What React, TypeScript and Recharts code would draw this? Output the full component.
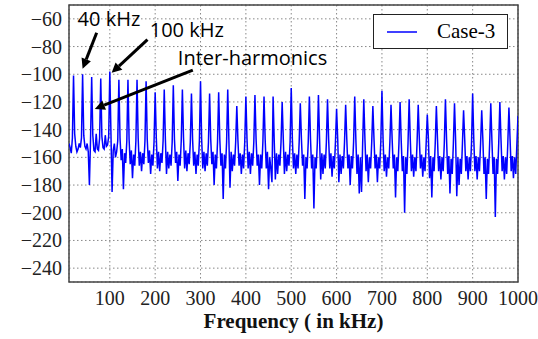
import {
  LineChart,
  Line,
  XAxis,
  YAxis,
  CartesianGrid,
  ReferenceArea,
  ReferenceLine,
  ReferenceDot,
} from "recharts";

// spectrum is sampled every 2.5 kHz, harmonics every 20 kHz
const STEP = 2.5;
const HARMONIC = 20;

// 10 .. 17.5 kHz, before the first harmonic
const leadIn = [-150, -153, -157, -146];

// peak of each harmonic, 20 kHz .. 1000 kHz (dB)
const harmonicPeaks = [
  -101, -100, -102, -103, -98, -104, -104, -104, -105, -113,
  -111, -108, -111, -114, -105, -114, -113, -111, -123, -116,
  -115, -116, -116, -120, -110, -121, -116, -115, -118, -125,
  -122, -116, -118, -123, -112, -122, -120, -118, -122, -129,
  -123, -118, -121, -126, -114, -126, -121, -120, -124, -130,
];

// noise floor between harmonic k and k+1 (at +2.5, +5 ... +17.5 kHz)
const noiseFloor = [
  [-143, -152, -156, -154, -150, -153, -146],
  [-144, -152, -154, -150, -156, -180, -147],
  [-144, -155, -156, -143, -154, -155, -146],
  [-145, -153, -154, -144, -152, -151, -145],
  [-143, -185, -155, -150, -160, -156, -148],
  [-146, -162, -154, -183, -157, -164, -148],
  [-147, -165, -155, -175, -158, -166, -148],
  [-146, -166, -156, -170, -157, -165, -148],
  [-147, -164, -155, -172, -158, -166, -149],
  [-146, -168, -156, -170, -157, -164, -148],
  [-147, -172, -156, -168, -158, -166, -149],
  [-147, -164, -156, -177, -158, -166, -148],
  [-146, -168, -155, -170, -157, -165, -149],
  [-147, -166, -156, -172, -158, -166, -148],
  [-147, -168, -156, -170, -157, -166, -149],
  [-147, -165, -156, -180, -158, -168, -149],
  [-147, -166, -157, -190, -158, -168, -149],
  [-147, -182, -156, -170, -158, -166, -149],
  [-148, -166, -157, -172, -158, -168, -149],
  [-147, -168, -156, -172, -157, -166, -149],
  [-147, -166, -158, -180, -158, -168, -149],
  [-147, -168, -156, -183, -160, -168, -178],
  [-148, -176, -157, -172, -158, -166, -149],
  [-147, -172, -156, -170, -158, -166, -149],
  [-147, -168, -157, -172, -158, -168, -149],
  [-147, -166, -158, -190, -160, -168, -149],
  [-147, -168, -158, -197, -160, -168, -150],
  [-147, -176, -157, -172, -158, -168, -149],
  [-147, -168, -157, -174, -159, -168, -149],
  [-147, -178, -158, -172, -159, -168, -149],
  [-147, -168, -158, -180, -159, -168, -149],
  [-147, -172, -158, -186, -160, -185, -150],
  [-147, -170, -158, -178, -160, -168, -149],
  [-147, -168, -158, -178, -160, -168, -149],
  [-147, -170, -158, -174, -160, -168, -149],
  [-147, -168, -158, -189, -160, -170, -150],
  [-148, -170, -159, -200, -160, -172, -150],
  [-147, -170, -158, -174, -160, -170, -149],
  [-147, -168, -158, -174, -160, -170, -150],
  [-147, -175, -159, -189, -160, -170, -150],
  [-147, -170, -159, -176, -160, -170, -150],
  [-147, -172, -159, -186, -161, -172, -150],
  [-148, -188, -160, -180, -161, -172, -150],
  [-147, -170, -159, -176, -160, -170, -150],
  [-147, -170, -159, -176, -160, -170, -150],
  [-147, -172, -160, -190, -161, -172, -150],
  [-148, -172, -160, -203, -161, -172, -150],
  [-147, -170, -159, -176, -160, -172, -150],
  [-147, -170, -159, -175, -160, -172, -151],
];

const xTicks = [100, 200, 300, 400, 500, 600, 700, 800, 900, 1000];
const yTicks = [-60, -80, -100, -120, -140, -160, -180, -200, -220, -240];

// arrows: [from kHz, from dB, to kHz, to dB]
const arrows = [
  [71, -70, 40, -96],
  [183, -75, 104, -99],
  [283, -97, 67, -125],
];
// annotation text: [kHz, dB, text]
const notes: [number, number, string][] = [
  [29, -65.5, "40 kHz"],
  [188, -72.8, "100 kHz"],
  [250, -93.2, "Inter-harmonics"],
];

const data: { f: number; v: number }[] = [];
leadIn.forEach((v, i) => data.push({ f: 10 + i * STEP, v }));
harmonicPeaks.forEach((peak, k) => {
  const f0 = (k + 1) * HARMONIC;
  data.push({ f: f0, v: peak });
  const row = noiseFloor[k];
  if (row) row.forEach((v, j) => data.push({ f: f0 + (j + 1) * STEP, v }));
});

const SERIF = "'Liberation Serif', 'Times New Roman', serif";
const fmt = (v: number) => (v < 0 ? `\u2212${Math.abs(v)}` : `${v}`);

const XTick = (props: any) => {
  const { x, y, payload } = props;
  return (
    <text x={x} y={y + 15} textAnchor="middle" fill="#222" fontSize={20} fontFamily={SERIF}>
      {fmt(payload.value)}
    </text>
  );
};

const YTick = (props: any) => {
  const { x, y, payload } = props;
  return (
    <text x={x} y={y + 7} textAnchor="end" fill="#222" fontSize={20} fontFamily={SERIF}>
      {fmt(payload.value)}
    </text>
  );
};

const Arrow = (props: any) => {
  const { x1, y1, x2, y2 } = props;
  const ang = Math.atan2(y2 - y1, x2 - x1);
  const len = 10;
  const w = 5;
  const bx = x2 - len * Math.cos(ang);
  const by = y2 - len * Math.sin(ang);
  const px = -Math.sin(ang) * w;
  const py = Math.cos(ang) * w;
  return (
    <g>
      <line x1={x1} y1={y1} x2={bx} y2={by} stroke="#000" strokeWidth={3} />
      <polygon
        points={`${x2},${y2} ${bx + px},${by + py} ${bx - px},${by - py}`}
        fill="#000"
      />
    </g>
  );
};

const LegendBox = () => (
  <div
    style={{
      position: "absolute",
      left: 373,
      top: 14,
      width: 133,
      height: 33,
      border: "1.5px solid #222",
      background: "#fff",
      display: "flex",
      alignItems: "center",
      fontFamily: SERIF,
      fontSize: 21,
    }}
  >
    <svg width={58} height={20}>
      <line x1={13} y1={10} x2={43} y2={10} stroke="#0000ff" strokeWidth={1.5} />
    </svg>
    <span style={{ marginLeft: 5 }}>Case-3</span>
  </div>
);

export default function App() {
  return (
    <div style={{ position: "absolute", left: 0, top: 0, width: 538, height: 339, background: "#fff" }}>
      <LineChart
        width={538}
        height={339}
        data={data}
        margin={{ top: 5, right: 20, bottom: 0, left: 0 }}
      >
        <CartesianGrid stroke="#888" strokeDasharray="1.5 2.5" />
        <XAxis
          dataKey="f"
          type="number"
          domain={[10, 1000]}
          ticks={xTicks}
          interval={0}
          allowDataOverflow
          height={57}
          axisLine={false}
          tickLine={false}
          tickSize={0}
          tickMargin={8}
          tick={<XTick />}
          label={{
            value: "Frequency ( in kHz)",
            position: "insideBottom",
            offset: 11,
            fill: "#111",
            fontSize: 21,
            fontWeight: "bold",
            fontFamily: SERIF,
          }}
        />
        <YAxis
          type="number"
          domain={[-250, -50]}
          ticks={yTicks}
          interval={0}
          allowDataOverflow
          width={69}
          axisLine={false}
          tickLine={false}
          tickSize={0}
          tickMargin={7}
          tick={<YTick />}
        />
        <ReferenceArea
          x1={10}
          x2={1000}
          y1={-250}
          y2={-50}
          fill="none"
          stroke="#444"
          strokeWidth={1.5}
        />
        <Line
          type="linear"
          dataKey="v"
          stroke="#0000ff"
          strokeWidth={1.5}
          dot={false}
          isAnimationActive={false}
          name="Case-3"
        />
        {arrows.map((a, i) => (
          <ReferenceLine
            key={"a" + i}
            segment={[
              { x: a[0], y: a[1] },
              { x: a[2], y: a[3] },
            ]}
            ifOverflow="visible"
            shape={Arrow}
          />
        ))}
        {notes.map(([f, v, t]) => (
          <ReferenceDot
            key={t}
            x={f}
            y={v}
            r={0}
            fill="none"
            stroke="none"
            ifOverflow="visible"
            label={(p: any) => (
              <text
                x={p.viewBox.x}
                y={p.viewBox.y}
                fill="#000"
                fontSize={20}
                fontFamily="'Open Sans', sans-serif"
              >
                {t}
              </text>
            )}
          />
        ))}
      </LineChart>
      <LegendBox />
    </div>
  );
}
